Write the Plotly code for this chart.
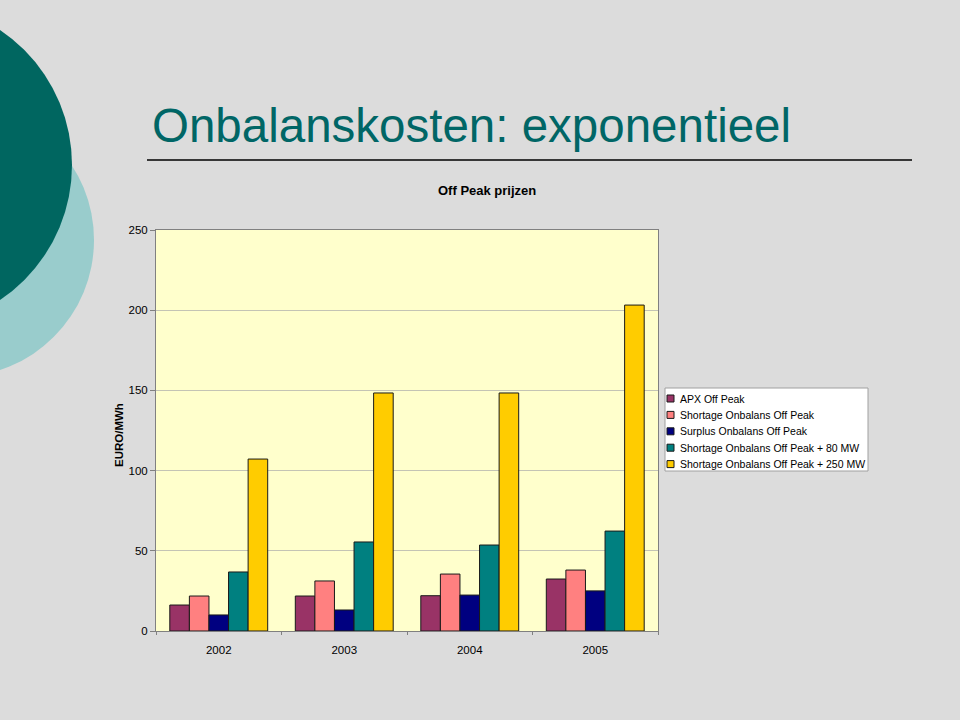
import plotly.graph_objects as go

years = ["2002", "2003", "2004", "2005"]
series_names = [
    "APX Off Peak",
    "Shortage Onbalans Off Peak",
    "Surplus Onbalans Off Peak",
    "Shortage Onbalans Off Peak + 80 MW",
    "Shortage Onbalans Off Peak + 250 MW",
]
apx = [16.2, 21.8, 22.0, 32.4]
shortage = [21.8, 31.2, 35.5, 38.0]
surplus = [10.0, 13.1, 22.4, 25.0]
shortage_80 = [36.8, 55.5, 53.6, 62.3]
shortage_250 = [107.2, 148.4, 148.4, 203.2]
colors = ["#993366", "#FF8080", "#000080", "#008080", "#FFCC00"]

values = [apx, shortage, surplus, shortage_80, shortage_250]

L, R, T, B = 156, 302, 230, 89
PW, PH = 960 - L - R, 720 - T - B


def xp(px):
    return (px - L) / PW


def yp(py):
    return (720 - B - py) / PH


fig = go.Figure()
for name, vals, col in zip(series_names, values, colors):
    fig.add_trace(go.Bar(
        x=years, y=vals, name=name,
        marker=dict(color=col, line=dict(color="#1a1a1a", width=1)),
    ))

shapes = [
    dict(type="circle", xref="paper", yref="paper", layer="below",
         x0=xp(-43 - 137), x1=xp(-43 + 137), y0=yp(240 + 137), y1=yp(240 - 137),
         fillcolor="#99CCCC", line=dict(width=0)),
    dict(type="circle", xref="paper", yref="paper", layer="below",
         x0=xp(-90.5 - 162.5), x1=xp(-90.5 + 162.5), y0=yp(165 + 162.5), y1=yp(165 - 162.5),
         fillcolor="#006660", line=dict(width=0)),
    dict(type="line", xref="paper", yref="paper",
         x0=xp(147), x1=xp(912), y0=yp(160), y1=yp(160),
         line=dict(color="#000000", width=1.5)),
    # legend box
    dict(type="rect", xref="paper", yref="paper",
         x0=xp(665), x1=xp(868), y0=yp(471), y1=yp(388),
         fillcolor="#FFFFFF", line=dict(color="#A0A0A0", width=1)),
]
annotations = [
    dict(text="Onbalanskosten: exponentieel", xref="paper", yref="paper",
         x=xp(150), y=yp(126), xanchor="left", yanchor="middle",
         showarrow=False, font=dict(size=47.5, color="#006666", family="Liberation Sans, Arial")),
    dict(text="<b>Off Peak prijzen</b>", xref="paper", yref="paper",
         x=xp(487), y=yp(190), xanchor="center", yanchor="middle",
         showarrow=False, font=dict(size=13, color="#000000")),
    dict(text="<b>EURO/MWh</b>", xref="paper", yref="paper",
         x=xp(119), y=yp(435), xanchor="center", yanchor="middle", textangle=-90,
         showarrow=False, font=dict(size=11.5, color="#000000")),
]
row0, dy = 398.5, 16.4
for i, (name, col) in enumerate(zip(series_names, colors)):
    cy = row0 + i * dy
    shapes.append(dict(type="rect", xref="paper", yref="paper",
                       x0=xp(667), x1=xp(674), y0=yp(cy + 3.5), y1=yp(cy - 3.5),
                       fillcolor=col, line=dict(color="#1a1a1a", width=1)))
    annotations.append(dict(text=name, xref="paper", yref="paper",
                            x=xp(678), y=yp(cy), xanchor="left", yanchor="middle",
                            showarrow=False, font=dict(size=10.5, color="#000000")))

fig.update_layout(
    width=960, height=720,
    margin=dict(l=L, r=R, t=T, b=B, pad=0),
    paper_bgcolor="#DCDCDC",
    plot_bgcolor="#FFFFCC",
    barmode="group",
    bargap=0.22,
    bargroupgap=0,
    font=dict(family="Liberation Sans, Arial", size=11, color="#000000"),
    showlegend=False,
    xaxis=dict(
        showline=True, linecolor="#808080", linewidth=1, mirror=True,
        ticks="outside", tickson="boundaries", ticklen=3, tickcolor="#808080",
        tickfont=dict(size=11.5), showgrid=False, ticklabelstandoff=8,
    ),
    yaxis=dict(
        range=[0, 250], tickvals=[0, 50, 100, 150, 200, 250],
        showgrid=True, gridcolor="#C4C4B4", gridwidth=1,
        showline=True, linecolor="#808080", linewidth=1, mirror=True,
        ticks="outside", ticklen=5, tickcolor="#808080",
        tickfont=dict(size=11.5), zeroline=False,
    ),
    shapes=shapes,
    annotations=annotations,
)

fig.write_html("out.html")
